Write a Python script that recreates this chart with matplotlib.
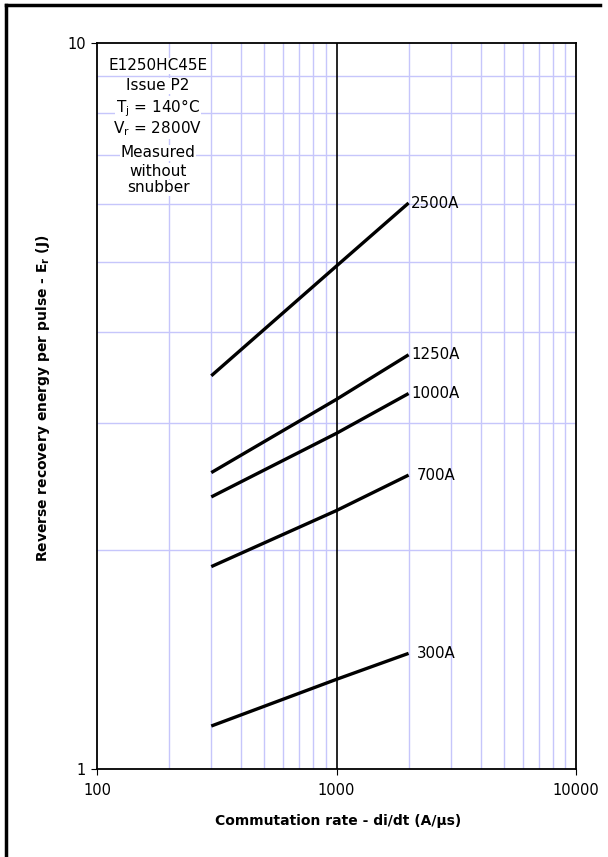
import numpy as np
import matplotlib.pyplot as plt
from matplotlib.lines import Line2D

plt.rcParams['font.family'] = ['DejaVu Sans']

# di/dt points (A/us) and Er (J) for each current
didt = [300, 1000, 2000]
er_2500 = [3.48, 4.93, 6.02]
er_1250 = [2.56, 3.23, 3.72]
er_1000 = [2.37, 2.90, 3.29]
er_700 = [1.90, 2.27, 2.54]
er_300 = [1.146, 1.329, 1.443]

curves = [('2500A', er_2500), ('1250A', er_1250), ('1000A', er_1000),
          ('700A', er_700), ('300A', er_300)]
label_dx = {'2500A': 1.02, '1250A': 1.03, '1000A': 1.03, '700A': 1.08, '300A': 1.08}

fig = plt.figure(figsize=(6.08, 8.57), dpi=100)
ax = fig.add_axes([97 / 608, 1 - 769 / 857, 479 / 608, 726 / 857])

ax.set_xscale('log')
ax.set_yscale('log')
ax.set_xlim(100, 10000)
ax.set_ylim(1, 10)

gridc = '#c6c6fb'
for d in (100, 1000):
    for k in range(2, 10):
        ax.axvline(d * k, color=gridc, lw=1, zorder=1)
for k in range(2, 10):
    ax.axhline(k, color=gridc, lw=1, zorder=1)
ax.axvline(1000, color='black', lw=1.2, zorder=2)

for name, vals in curves:
    ax.plot(didt, vals, color='black', lw=2.4, solid_capstyle='butt', zorder=3)
    ax.text(didt[-1] * label_dx[name], vals[-1], name, fontsize=10.8,
            ha='left', va='center', zorder=4)

ax.set_xticks([100, 1000, 10000])
ax.set_xticklabels(['100', '1000', '10000'])
ax.set_yticks([1, 10])
ax.set_yticklabels(['1', '10'])
ax.minorticks_off()
ax.tick_params(axis='both', labelsize=10.5, length=4, width=0.8)
ax.tick_params(axis='x', pad=6)
ax.tick_params(axis='y', pad=4)

for s in ax.spines.values():
    s.set_linewidth(1.3)

ax.set_xlabel('Commutation rate - di/dt (A/µs)', fontsize=10,
              fontweight='bold')
ax.set_ylabel('Reverse recovery energy per pulse - E$_\\mathregular{r}$ (J)',
              fontsize=10, fontweight='bold')
ax.xaxis.set_label_coords(0.503, -0.062)
ax.yaxis.set_label_coords(-0.094, 0.511)

info = [('E1250HC45E', 66), ('Issue P2', 86), ('T$_\\mathregular{j}$ = 140°C', 108),
        ('V$_\\mathregular{r}$ = 2800V', 129), ('Measured', 153),
        ('without', 171), ('snubber', 188)]
for txt, ypix in info:
    fig.text(158 / 608, 1 - ypix / 857, txt, fontsize=11, ha='center',
             va='center', zorder=5,
             bbox=dict(facecolor='white', edgecolor='none', pad=0.5))

# page frame (top and left edges)
fig.add_artist(Line2D([6 / 608, 600 / 608], [1 - 5 / 857, 1 - 5 / 857],
                      color='black', lw=2.5, transform=fig.transFigure))
fig.add_artist(Line2D([6 / 608, 6 / 608], [1 - 5 / 857, 0],
                      color='black', lw=2.5, transform=fig.transFigure))

fig.savefig('out.png', dpi=100)
